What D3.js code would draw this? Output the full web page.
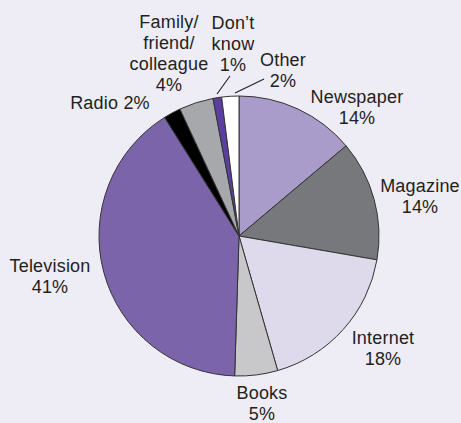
<!DOCTYPE html>
<html><head><meta charset="utf-8">
<script src="https://cdn.jsdelivr.net/npm/d3@7"></script>
<style>
html,body{margin:0;padding:0;background:#eeecf5;}
svg{display:block;}
text{font-family:"Liberation Sans",Arial,Helvetica,sans-serif;font-size:18px;fill:#231f20;letter-spacing:0.2px;}
</style></head>
<body>
<svg id="chart" width="461" height="423"></svg>
<script>
const categories = ["Newspaper","Magazine","Internet","Books","Television","Radio","Family/friend/colleague","Don\u2019t know","Other"];
const values = [14,14,18,5,41,2,4,1,2];
const labelLines = [
  ["Newspaper","14%"],
  ["Magazine","14%"],
  ["Internet","18%"],
  ["Books","5%"],
  ["Television","41%"],
  ["Radio 2%"],
  ["Family/","friend/","colleague","4%"],
  ["Don\u2019t","know","1%"],
  ["Other","2%"]
];
const colors = ["#a99bca","#77787b","#dedaec","#c8c8ca","#7b64aa","#000000","#a7a8ab","#5b3fa0","#ffffff"];

// layout (label anchor: x center, y of first line's vertical middle)
const cx = 239, cy = 236, R = 140, lineH = 21;
const labelAnchor = [
  [357,97],[420,186],[383,338],[262,393],[50,266],[110,103],[169,22],[233,23],[283,60]
];
const leaders = [[[217,94],[230,76]], [[235,93],[264,79]]];

const svg = d3.select("#chart");
const g = svg.append("g").attr("transform",`translate(${cx},${cy})`);
const pie = d3.pie().sort(null).value(d=>d.v);
const data = categories.map((c,i)=>({c, v:values[i], i}));
const arc = d3.arc().innerRadius(0).outerRadius(R);
g.selectAll("path").data(pie(data)).join("path")
  .attr("d",arc)
  .attr("fill",d=>colors[d.data.i])
  .attr("stroke","#333")
  .attr("stroke-width",1)
  .attr("stroke-linejoin","round");

svg.selectAll("path.leader").data(leaders).join("path").attr("class","leader")
  .attr("d",d=>d3.line()(d))
  .attr("fill","none")
  .attr("stroke","#231f20").attr("stroke-width",1.1);

labelLines.forEach((lines,i)=>{
  const [x,y] = labelAnchor[i];
  const t = svg.append("text").attr("text-anchor","middle");
  lines.forEach((ln,j)=>{
    t.append("tspan").attr("x",x).attr("y",y + j*lineH).attr("dy","0.35em").text(ln);
  });
});
</script>
</body></html>
